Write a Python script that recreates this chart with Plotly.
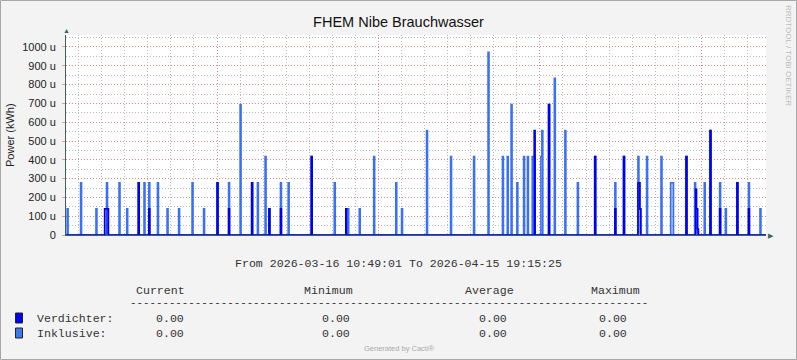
import pandas as pd
import plotly.graph_objects as go

# ---------------- data ----------------
start_time = "2026-03-16 10:49:01"
end_time = "2026-04-15 19:15:25"

inklusive_times = [
    "2026-03-16 12:00", "2026-03-17 02:00", "2026-03-17 18:00", "2026-03-18 05:00",
    "2026-03-18 18:00", "2026-03-19 02:00", "2026-03-19 14:00", "2026-03-19 20:00",
    "2026-03-20 01:00", "2026-03-20 10:00", "2026-03-20 20:00", "2026-03-21 08:00",
    "2026-03-21 22:00", "2026-03-22 10:00", "2026-03-23 00:00", "2026-03-23 12:00",
    "2026-03-24 00:00", "2026-03-24 12:00", "2026-03-24 18:00", "2026-03-25 02:00",
    "2026-03-25 06:00", "2026-03-25 18:00", "2026-03-26 02:00", "2026-03-27 02:00",
    "2026-03-28 02:00", "2026-03-28 14:00", "2026-03-28 15:00", "2026-03-28 16:00",
    "2026-03-29 04:00", "2026-03-29 19:00", "2026-03-30 18:00", "2026-03-31 00:00",
    "2026-04-01 02:00", "2026-04-02 03:00", "2026-04-03 03:00", "2026-04-03 18:00",
    "2026-04-04 09:00", "2026-04-04 14:00", "2026-04-04 18:00", "2026-04-05 00:00",
    "2026-04-05 07:00", "2026-04-05 11:00", "2026-04-05 16:00", "2026-04-05 17:00",
    "2026-04-05 18:00", "2026-04-06 01:00", "2026-04-06 02:00", "2026-04-06 09:00",
    "2026-04-06 15:00", "2026-04-07 02:00", "2026-04-07 15:00", "2026-04-08 09:00",
    "2026-04-09 06:00", "2026-04-09 15:00", "2026-04-10 06:00", "2026-04-10 07:00",
    "2026-04-10 08:00", "2026-04-10 15:00", "2026-04-11 06:00", "2026-04-11 16:00",
    "2026-04-11 17:00", "2026-04-11 18:00", "2026-04-12 08:00", "2026-04-12 17:00",
    "2026-04-12 18:00", "2026-04-12 19:00", "2026-04-13 03:00", "2026-04-13 09:00",
    "2026-04-13 19:00", "2026-04-14 01:00", "2026-04-14 13:00", "2026-04-15 01:00",
    "2026-04-15 13:00",
]
inklusive_values = [
    139, 278, 139, 278,
    278, 139, 278, 278,
    278, 278, 139, 139,
    278, 139, 278, 278,
    694, 278, 278, 417,
    139, 278, 278, 417,
    278, 139, 139, 139,
    139, 417, 278, 139,
    556, 417, 417, 972,
    417, 417, 694, 278,
    417, 417, 417, 417,
    417, 417, 556, 694,
    833, 556, 278, 417,
    278, 417, 417, 278,
    139, 417, 417, 278,
    278, 278, 417, 278,
    139, 139, 278, 556,
    278, 139, 278, 278,
    139,
]

verdichter_times = [
    "2026-03-18 03:00", "2026-03-18 04:00", "2026-03-18 05:00", "2026-03-18 06:00",
    "2026-03-19 14:00", "2026-03-20 01:00", "2026-03-23 00:00", "2026-03-23 12:00",
    "2026-03-24 12:00", "2026-03-25 06:00", "2026-03-25 18:00", "2026-03-27 02:00",
    "2026-03-28 14:00", "2026-04-05 18:00", "2026-04-06 09:00", "2026-04-08 09:00",
    "2026-04-09 06:00", "2026-04-09 15:00", "2026-04-10 06:00", "2026-04-10 07:00",
    "2026-04-10 08:00", "2026-04-12 08:00", "2026-04-12 18:00", "2026-04-12 19:00",
    "2026-04-12 20:00", "2026-04-13 09:00", "2026-04-13 19:00", "2026-04-14 13:00",
    "2026-04-15 01:00",
]
verdichter_values = [
    139, 139, 139, 139,
    278, 139, 278, 139,
    278, 139, 139, 417,
    139, 556, 694, 417,
    139, 417, 278, 278,
    139, 417, 243, 139,
    32, 556, 139, 278,
    139,
]

y_tick_values = [0, 100, 200, 300, 400, 500, 600, 700, 800, 900, 1000]
y_tick_labels = ["0", "100 u", "200 u", "300 u", "400 u", "500 u", "600 u",
                 "700 u", "800 u", "900 u", "1000 u"]
week_label_times = ["2026-03-19 12:00", "2026-03-26 12:00", "2026-04-02 12:00", "2026-04-09 12:00"]
week_labels = ["Week 12", "Week 13", "Week 14", "Week 15"]

legend_names = ["Verdichter:", "Inklusive:"]
legend_current = ["0.00", "0.00"]
legend_minimum = ["0.00", "0.00"]
legend_average = ["0.00", "0.00"]
legend_maximum = ["0.00", "0.00"]

# ---------------- helpers ----------------
STEP = pd.Timedelta(hours=1)


def step_series(times, values):
    """Turn sampled readings into an RRD-style step line on a zero baseline."""
    ts = [pd.Timestamp(t) for t in times]
    xs, ys = [pd.Timestamp(start_time)], [0]
    for i, (t, v) in enumerate(zip(ts, values)):
        xs.append(t)
        ys.append(v)
        nxt = ts[i + 1] if i + 1 < len(ts) else None
        if nxt is None or nxt != t + STEP:
            xs.append(t + STEP)
            ys.append(0)
    xs.append(pd.Timestamp(end_time))
    ys.append(0)
    return xs, ys


W_PX, H_PX = 797, 360
L, R, T, B = 66, 31, 35, 125
PW, PH = W_PX - L - R, H_PX - T - B


def px(x):
    return (x - L) / PW


def py(y):
    return (T + PH - y) / PH


AXIS_COL = "#3E6358"
INK_COL = "#3A70F5"
VERD_COL = "#0000F0"
MONO = "Liberation Mono, DejaVu Sans Mono, monospace"
SANS = "Liberation Sans, Arial, sans-serif"
TXT = "#333333"

fig = go.Figure()

ix, iy = step_series(inklusive_times, inklusive_values)
vx, vy = step_series(verdichter_times, verdichter_values)

fig.add_trace(go.Scatter(
    x=ix, y=iy, mode="lines", line=dict(color=INK_COL, width=1.6, shape="hv"),
    fill="tozeroy", fillcolor="rgba(58,112,245,0.35)", name="Inklusive", showlegend=False,
))
fig.add_trace(go.Scatter(
    x=vx, y=vy, mode="lines", line=dict(color=VERD_COL, width=1.6, shape="hv"),
    fill="tozeroy", fillcolor="rgba(0,0,240,0.30)", name="Verdichter", showlegend=False,
))

mondays = pd.date_range(pd.Timestamp(start_time).normalize() + pd.Timedelta(days=7),
                        pd.Timestamp(end_time), freq="7D")

MAJ_GRID = "rgba(230,120,120,0.75)"
MIN_GRID = "rgba(170,170,170,0.8)"

fig.update_layout(
    width=W_PX, height=H_PX,
    margin=dict(l=L, r=R, t=T, b=B, pad=0),
    paper_bgcolor="#F3F3F3", plot_bgcolor="#FFFFFF",
    title=dict(text="FHEM Nibe Brauchwasser", x=0.5, xref="container", xanchor="center",
               y=1 - 22 / H_PX, yref="container", yanchor="middle",
               font=dict(family=SANS, size=14.5, color="#111111")),
    font=dict(family=SANS, size=11, color="#222222"),
    xaxis=dict(
        type="date", range=[start_time, end_time],
        tickmode="array", tickvals=list(mondays), showticklabels=False,
        ticks="", showgrid=True, gridcolor=MAJ_GRID, griddash="1px,2px", gridwidth=1,
        minor=dict(tickmode="linear", tick0="2026-03-17", dtick=86400000, showgrid=True,
                   gridcolor=MIN_GRID, griddash="1px,2px", gridwidth=1, ticks=""),
        showline=True, linecolor=AXIS_COL, linewidth=1, zeroline=False, fixedrange=True,
    ),
    xaxis2=dict(
        type="date", range=[start_time, end_time], overlaying="x", anchor="y", side="bottom",
        tickmode="array", tickvals=week_label_times, ticktext=week_labels,
        showgrid=False, ticks="", showline=False, zeroline=False,
        tickfont=dict(family=SANS, size=11, color="#222222"),
    ),
    yaxis=dict(
        range=[0, 1063.8], tickmode="array", tickvals=y_tick_values, ticktext=y_tick_labels,
        showgrid=True, gridcolor=MAJ_GRID, griddash="1px,2px", gridwidth=1,
        minor=dict(tickmode="linear", tick0=0, dtick=50, showgrid=True,
                   gridcolor=MIN_GRID, griddash="1px,2px", gridwidth=1, ticks=""),
        ticks="outside", ticklen=3, tickcolor=MAJ_GRID, ticklabelstandoff=4,
        showline=True, linecolor=AXIS_COL, linewidth=1, zeroline=False,
        tickfont=dict(family=SANS, size=11, color="#222222"),
    ),
)

ann = []
# axis arrows
ann.append(dict(xref="paper", yref="paper", x=px(66.5), y=py(31), text="▲", showarrow=False,
                font=dict(size=7, color=AXIS_COL), xanchor="center", yanchor="middle"))
ann.append(dict(xref="paper", yref="paper", x=px(771), y=py(235), text="▶", showarrow=False,
                font=dict(size=7, color=AXIS_COL), xanchor="center", yanchor="middle"))
# y axis title
ann.append(dict(xref="paper", yref="paper", x=px(10), y=0.5, text="Power (kWh)", textangle=-90,
                showarrow=False, font=dict(family=SANS, size=11, color="#222222"),
                xanchor="center", yanchor="middle"))
# watermark
ann.append(dict(xref="paper", yref="paper", x=px(789), y=py(55), text="RRDTOOL / TOBI OETIKER",
                textangle=90, showarrow=False, font=dict(family=SANS, size=8, color="#BBBBBB"),
                xanchor="center", yanchor="middle"))
# time range line
ann.append(dict(xref="paper", yref="paper", x=px(398.5), y=py(263),
                text=f"From {start_time} To {end_time}", showarrow=False,
                font=dict(family=MONO, size=11.6, color=TXT), xanchor="center", yanchor="middle"))
# legend header
for label, xl in zip(["Current", "Minimum", "Average", "Maximum"], [134.5, 303, 463.5, 589.5]):
    ann.append(dict(xref="paper", yref="paper", x=px(xl), y=py(290), text=label, showarrow=False,
                    font=dict(family=MONO, size=11.6, color=TXT), xanchor="left", yanchor="middle",
                    borderpad=0))
ann.append(dict(xref="paper", yref="paper", x=px(128.5), y=py(303), text="-" * 80, showarrow=False,
                font=dict(family=MONO, size=10.8, color=TXT), xanchor="left", yanchor="middle",
                borderpad=0))
row_y = [318, 333]
box_cols = [VERD_COL, "#3A78F0"]
shapes = []
for i, name in enumerate(legend_names):
    ann.append(dict(xref="paper", yref="paper", x=px(36), y=py(row_y[i]), text=name, showarrow=False,
                    font=dict(family=MONO, size=11.6, color=TXT), xanchor="left", yanchor="middle",
                    borderpad=0))
    for vals, xl in zip([legend_current, legend_minimum, legend_average, legend_maximum],
                        [155, 321, 478, 598]):
        ann.append(dict(xref="paper", yref="paper", x=px(xl), y=py(row_y[i]), text=vals[i],
                        showarrow=False, font=dict(family=MONO, size=11.6, color=TXT),
                        xanchor="left", yanchor="middle", borderpad=0))
    shapes.append(dict(type="rect", xref="paper", yref="paper", x0=px(15.5), x1=px(22.5),
                       y0=py(row_y[i] + 5), y1=py(row_y[i] - 5), fillcolor=box_cols[i],
                       line=dict(color="#222222", width=1)))
ann.append(dict(xref="paper", yref="paper", x=px(399), y=py(349), text="Generated by Cacti®",
                showarrow=False, font=dict(family=SANS, size=7.5, color="#AAAAAA"),
                xanchor="center", yanchor="middle"))

# outer frame
shapes.append(dict(type="rect", xref="paper", yref="paper", x0=px(0.5), x1=px(796.5),
                   y0=py(359.5), y1=py(0.5), line=dict(color="#A8A8A8", width=1),
                   fillcolor="rgba(0,0,0,0)", layer="below"))

fig.update_layout(annotations=ann, shapes=shapes)
fig.write_html("out.html", config={"displayModeBar": False},
               post_script="document.body.style.margin='0';document.body.style.padding='0';"
                           "document.body.style.overflow='hidden';")
